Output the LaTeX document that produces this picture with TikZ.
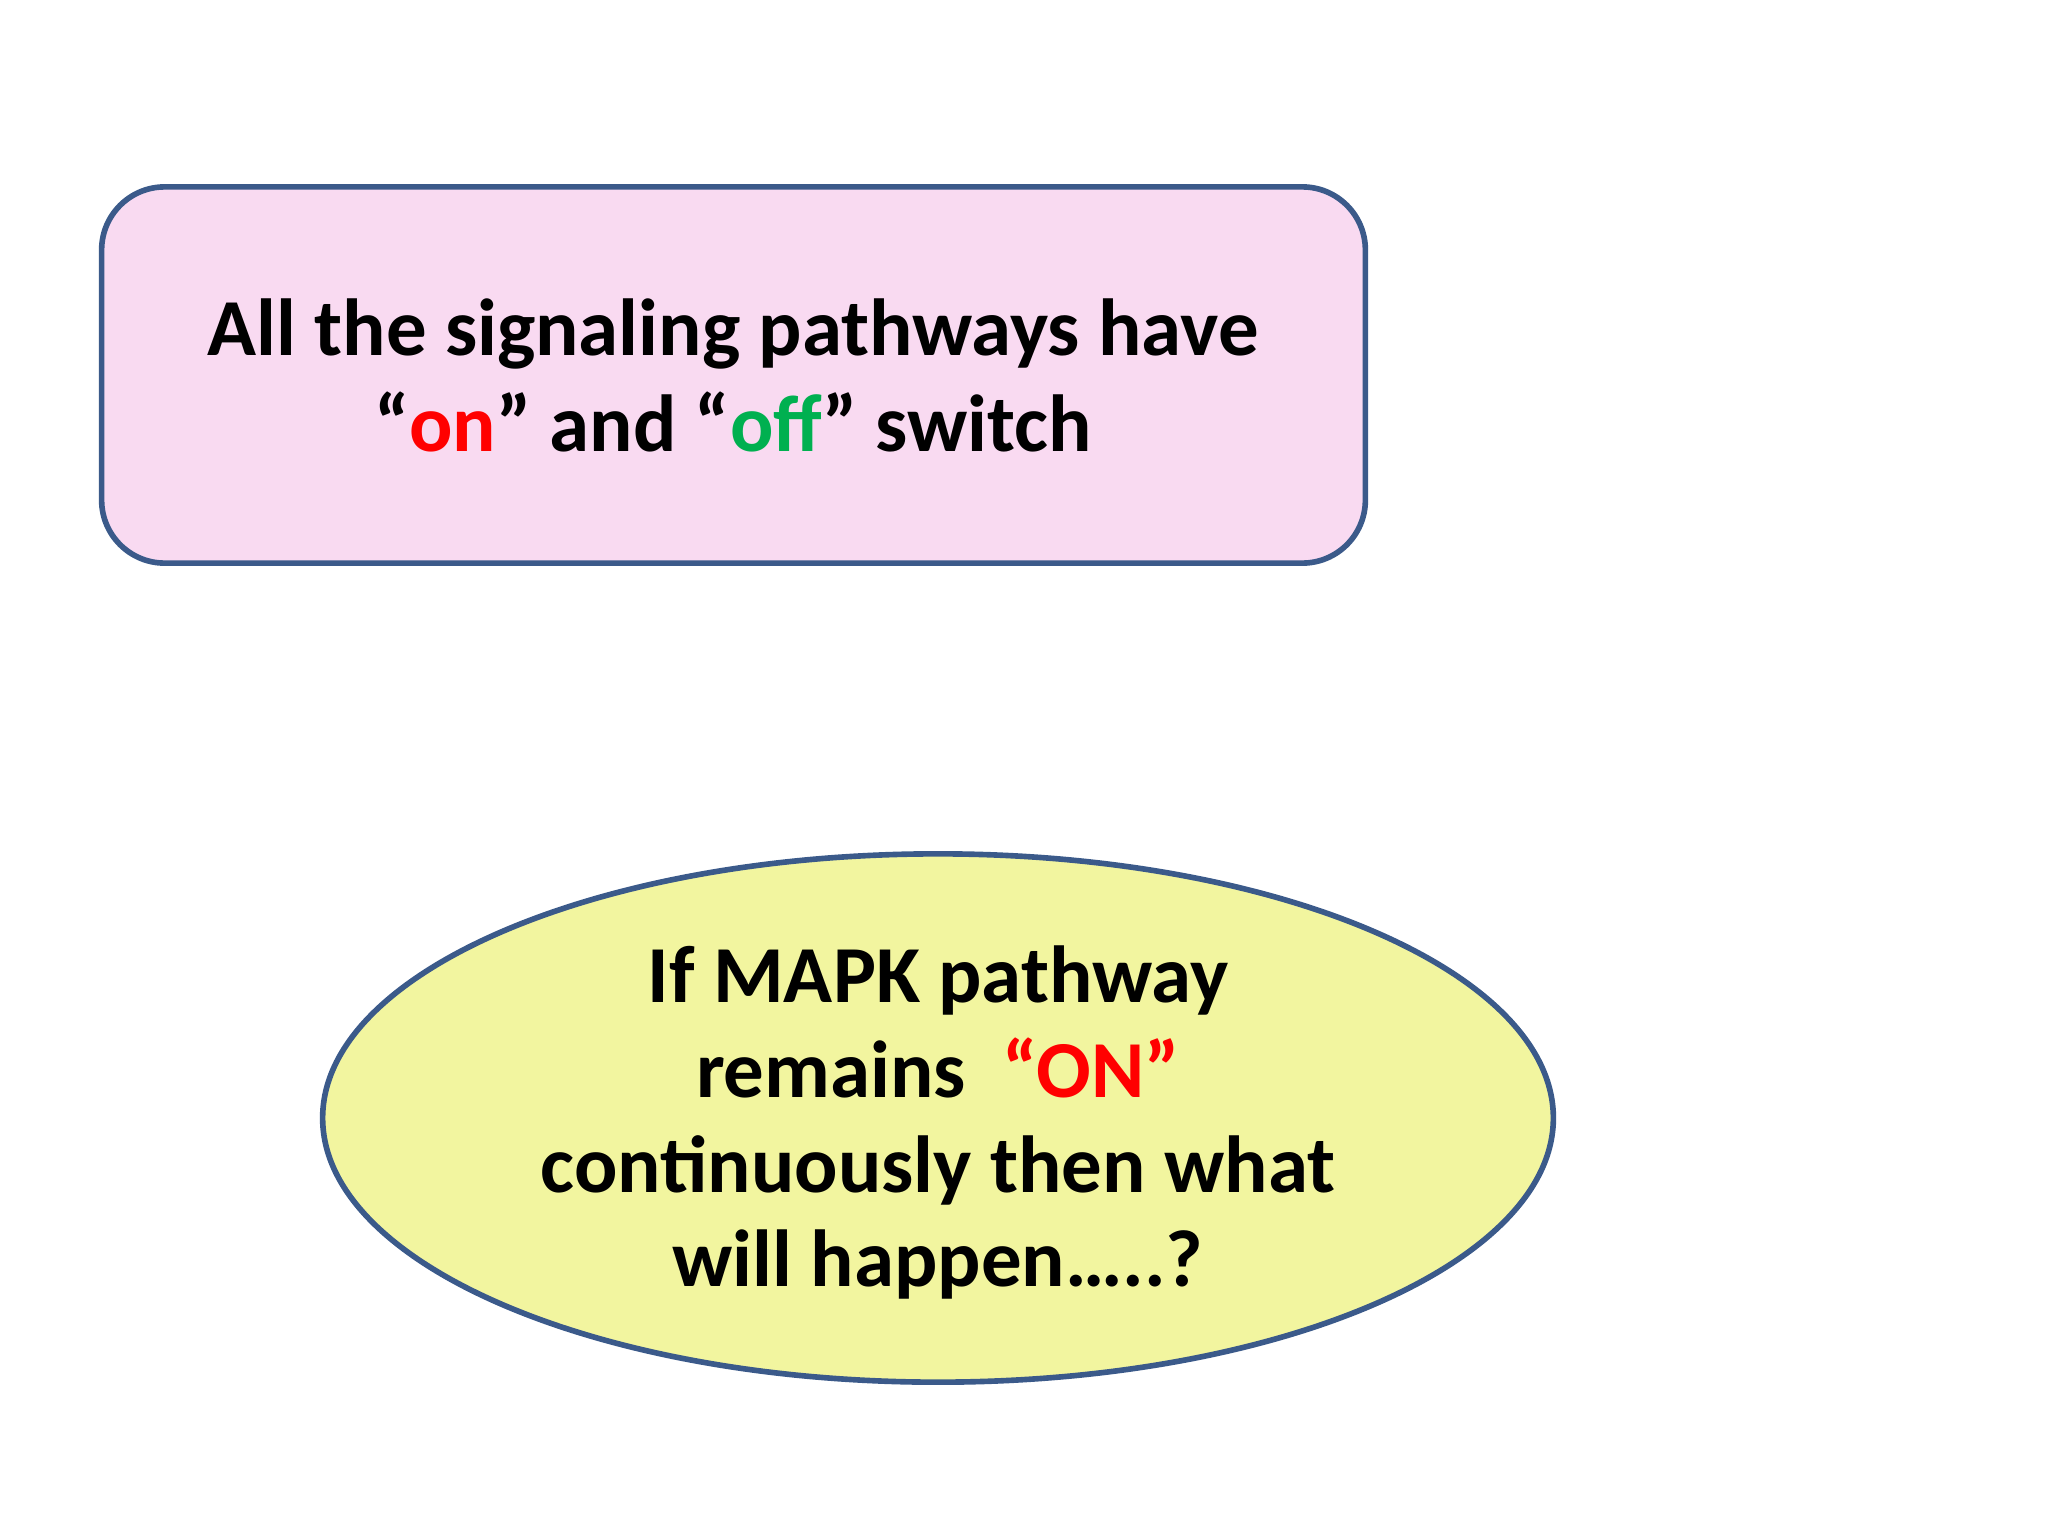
\documentclass[tikz,border=0pt]{standalone}
\usepackage{fontspec}
\setmainfont{Carlito}
\usetikzlibrary{shapes.geometric}
\definecolor{bord}{HTML}{3B5A8A}
\definecolor{pinkf}{HTML}{F9DAF1}
\definecolor{yelf}{HTML}{F2F59F}
\definecolor{onred}{HTML}{FF0000}
\definecolor{offgreen}{HTML}{00B050}
\tikzset{txt/.style={font=\fontsize{23}{27}\selectfont\bfseries, align=center, inner sep=0pt}}
\begin{document}
\begin{tikzpicture}[x=0.01cm,y=-0.01cm]
\useasboundingbox (0,0) rectangle (2048,1536);
\node[draw=bord, line width=1.6pt, fill=pinkf, rounded corners=0.63cm, minimum width=12.63cm, minimum height=3.76cm] (box) at (733.5,375) {};
\node[txt, anchor=base] (t1) at (733,355) {All the signaling pathways have};
\node[txt, anchor=base] (t2) at (733,451) {“\textcolor{onred}{on}” and “\textcolor{offgreen}{off}” switch};
\node[draw=bord, line width=1.6pt, fill=yelf, ellipse, minimum width=12.3cm, minimum height=5.28cm, inner sep=0pt] (ell) at (938,1118) {};
\node[txt, anchor=base] (e1) at (938,1002) {If MAPK pathway};
\node[txt, anchor=base] (e2) at (938,1097) {remains~~\textcolor{onred}{“ON”}};
\node[txt, anchor=base] (e3) at (938,1192) {continuously then what};
\node[txt, anchor=base] (e4) at (938,1286) {will happen…..?};
\end{tikzpicture}
\end{document}
